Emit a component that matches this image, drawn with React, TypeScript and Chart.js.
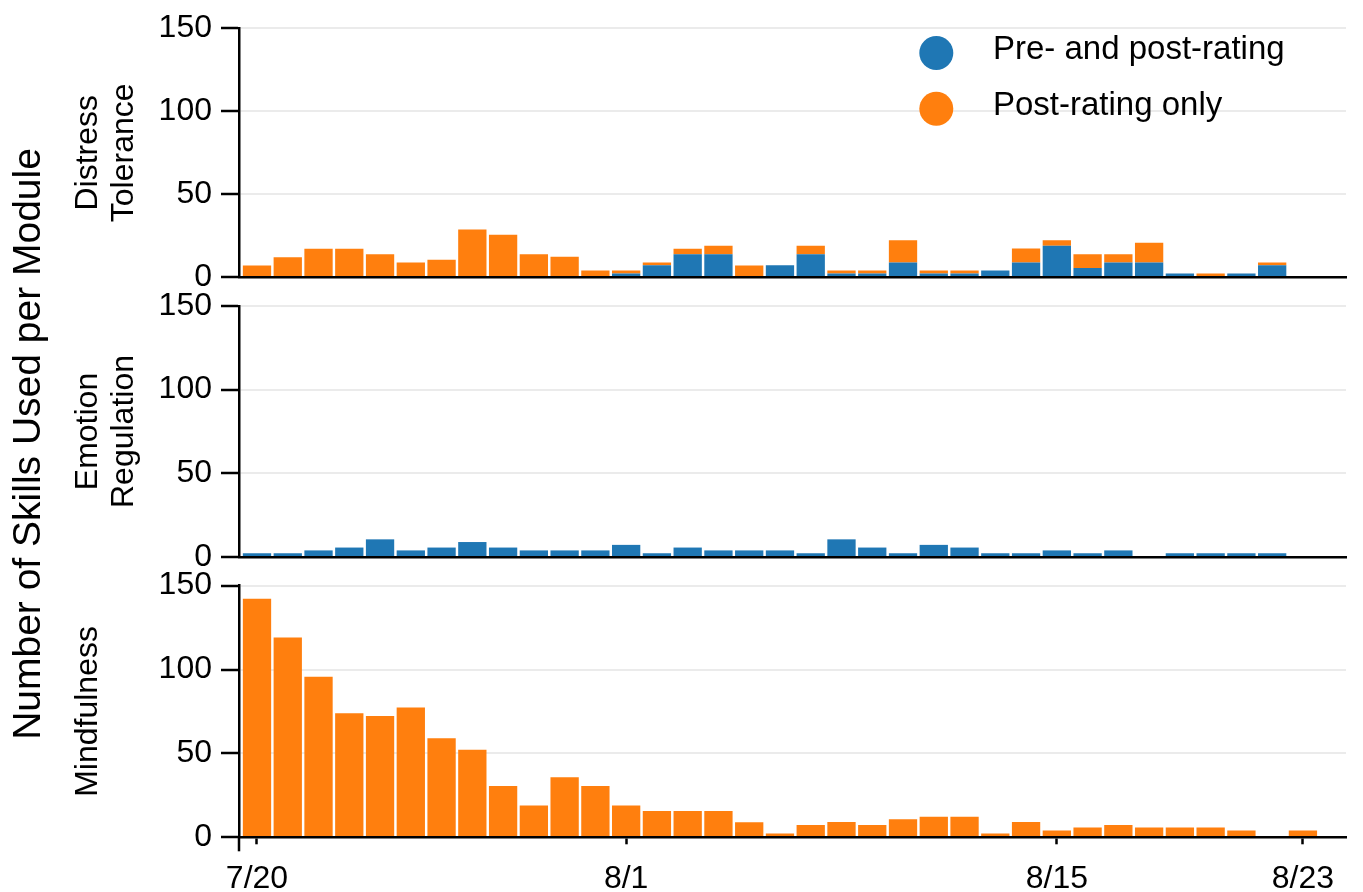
import { useEffect, useRef } from "react";
import { Chart, registerables } from "chart.js";

Chart.register(...registerables);

// ---------- data ----------
const dates = [
  "7/20", "7/21", "7/22", "7/23", "7/24", "7/25", "7/26", "7/27", "7/28", "7/29", "7/30", "7/31",
  "8/1", "8/2", "8/3", "8/4", "8/5", "8/6", "8/7", "8/8", "8/9", "8/10", "8/11", "8/12", "8/13",
  "8/14", "8/15", "8/16", "8/17", "8/18", "8/19", "8/20", "8/21", "8/22", "8/23",
];
const tickDates = ["7/20", "8/1", "8/15", "8/23"];
const yTicks = [0, 50, 100, 150];
const seriesLabels = ["Pre- and post-rating", "Post-rating only"];
const moduleTitles = [["Distress", "Tolerance"], ["Emotion", "Regulation"], ["Mindfulness"]];
const yAxisTitle = "Number of Skills Used per Module";

const distressPrePost = [
  0, 0, 0, 0, 0, 0, 0, 0, 0, 0, 0, 0,
  2.3, 7.3, 14.0, 14.0, 0, 7.3, 14.0, 2.3, 2.3, 9.0, 2.3, 2.3, 4.1,
  9.0, 19.0, 5.7, 9.0, 9.0, 2.3, 0, 2.3, 7.3, 0,
];
const distressPostOnly = [
  7.1, 12.2, 17.2, 17.2, 14.0, 9.0, 10.6, 28.9, 25.7, 14.0, 12.4, 4.1,
  1.8, 1.7, 3.2, 5.0, 7.1, 0, 5.0, 1.8, 1.8, 13.3, 1.8, 1.8, 0,
  8.4, 3.3, 8.3, 5.0, 11.8, 0, 2.3, 0, 1.7, 0,
];
const emotionPrePost = [
  2.3, 2.3, 4.0, 5.7, 10.6, 4.0, 5.7, 9.0, 5.7, 4.0, 4.0, 4.0,
  7.3, 2.3, 5.7, 4.0, 4.0, 4.0, 2.3, 10.6, 5.7, 2.3, 7.3, 5.7, 2.3,
  2.3, 4.0, 2.3, 4.0, 0, 2.3, 2.3, 2.3, 2.3, 0,
];
const mindfulnessPostOnly = [
  142.2, 119.0, 95.7, 73.9, 72.3, 77.3, 59.0, 52.2, 30.6, 18.9, 35.8, 30.6,
  18.9, 15.7, 15.7, 15.7, 8.9, 2.3, 7.3, 9.1, 7.3, 10.7, 12.3, 12.3, 2.3,
  9.1, 4.0, 5.8, 7.3, 5.8, 5.8, 5.8, 4.0, 0, 4.0,
];

// ---------- style ----------
const W = 1363;
const H = 892;
const BLUE = "#1f77b4";
const ORANGE = "#ff7f0e";
const FONT = "'Liberation Sans', Arial, Helvetica, sans-serif";
const AREA_LEFT = 239;
const AREA_RIGHT = 1346;
const X_MIN = -0.585;
const X_MAX = 35.4;

type PanelSpec = {
  title: string[];
  pre: number[] | null;
  post: number[] | null;
  top: number;
  bottom: number;
  showX: boolean;
  legend: boolean;
  supLabel: boolean;
};

const panels: PanelSpec[] = [
  { title: moduleTitles[0], pre: distressPrePost, post: distressPostOnly, top: 25.7, bottom: 277.4, showX: false, legend: true, supLabel: false },
  { title: moduleTitles[1], pre: emotionPrePost, post: null, top: 305.9, bottom: 557.1, showX: false, legend: false, supLabel: false },
  { title: moduleTitles[2], pre: null, post: mindfulnessPostOnly, top: 585.6, bottom: 837.3, showX: true, legend: false, supLabel: true },
];

const legendPlugin = {
  id: "customLegend",
  afterDraw(chart: any) {
    const opts = chart.options.plugins.customLegend;
    if (!opts || !opts.show) return;
    const ctx = chart.ctx;
    ctx.save();
    const colors = [BLUE, ORANGE];
    seriesLabels.forEach((label, i) => {
      const cy = 53 + i * 55.7;
      ctx.beginPath();
      ctx.arc(936.3, cy, 17, 0, Math.PI * 2);
      ctx.fillStyle = colors[i];
      ctx.fill();
      ctx.fillStyle = "#000";
      ctx.font = `33px ${FONT}`;
      ctx.textAlign = "left";
      ctx.textBaseline = "alphabetic";
      ctx.fillText(label, 993, 59 + i * 55.7);
    });
    ctx.restore();
  },
};

const supLabelPlugin = {
  id: "supLabel",
  afterDraw(chart: any) {
    const opts = chart.options.plugins.supLabel;
    if (!opts || !opts.show) return;
    const ctx = chart.ctx;
    const area = chart.chartArea;
    ctx.save();
    // y-axis spine continues slightly below the x axis
    ctx.strokeStyle = "#000";
    ctx.lineWidth = 2.5;
    ctx.beginPath();
    ctx.moveTo(area.left, area.bottom);
    ctx.lineTo(area.left, area.bottom + 14);
    ctx.stroke();
    ctx.translate(29, 444);
    ctx.rotate(-Math.PI / 2);
    ctx.fillStyle = "#000";
    ctx.font = `39px ${FONT}`;
    ctx.textAlign = "center";
    ctx.textBaseline = "middle";
    ctx.fillText(yAxisTitle, 0, 0);
    ctx.restore();
  },
};

function makeChart(canvas: HTMLCanvasElement, p: PanelSpec) {
  const tickIdx = tickDates.map((d) => dates.indexOf(d));
  const datasets: any[] = [];
  if (p.pre) {
    datasets.push({
      label: seriesLabels[0],
      data: p.pre.map((v, i) => ({ x: i, y: v })),
      backgroundColor: BLUE,
      borderWidth: 0,
      barPercentage: 0.92,
      categoryPercentage: 1,
    });
  }
  if (p.post) {
    datasets.push({
      label: seriesLabels[1],
      data: p.post.map((v, i) => ({ x: i, y: v })),
      backgroundColor: ORANGE,
      borderWidth: 0,
      barPercentage: 0.92,
      categoryPercentage: 1,
    });
  }
  const xAxisH = p.showX ? 54 : 0;
  return new Chart(canvas, {
    type: "bar",
    data: { datasets },
    plugins: [legendPlugin, supLabelPlugin],
    options: {
      animation: false,
      responsive: false,
      maintainAspectRatio: false,
      devicePixelRatio: 1,
      layout: {
        padding: { top: p.top, bottom: H - p.bottom - xAxisH, left: 0, right: W - AREA_RIGHT },
      },
      plugins: {
        legend: { display: false },
        tooltip: { enabled: false },
        customLegend: { show: p.legend },
        supLabel: { show: p.supLabel },
      } as any,
      scales: {
        x: {
          type: "linear",
          stacked: true,
          min: X_MIN,
          max: X_MAX,
          bounds: "data",
          offset: false,
          afterFit: (s: any) => {
            s.height = xAxisH;
          },
          afterBuildTicks: (s: any) => {
            s.ticks = tickIdx.map((v) => ({ value: v }));
          },
          grid: {
            display: true,
            offset: false,
            drawOnChartArea: false,
            drawTicks: p.showX,
            tickLength: 7,
            tickColor: "#000",
            tickWidth: 2.5,
          },
          border: { display: true, color: "#000", width: 2.5, z: 1 },
          ticks: {
            display: p.showX,
            padding: 16,
            color: "#000",
            autoSkip: false,
            maxRotation: 0,
            font: { family: FONT, size: 32 },
            callback: (v: any) => dates[Math.round(Number(v))] ?? "",
          },
        },
        y: {
          type: "linear",
          stacked: true,
          min: 0,
          max: 150,
          afterFit: (s: any) => {
            s.width = AREA_LEFT;
          },
          afterBuildTicks: (s: any) => {
            s.ticks = yTicks.map((v) => ({ value: v }));
          },
          grid: {
            color: (c: any) => (c.tick && c.tick.value === 0 ? "rgba(0,0,0,0)" : "#ebebeb"),
            lineWidth: 2,
            tickLength: 18,
            tickColor: "#000",
            tickWidth: 2.5,
          },
          border: { display: true, color: "#000", width: 2.5, z: 1 },
          ticks: {
            padding: 9,
            color: "#000",
            font: { family: FONT, size: 32 },
          },
          title: {
            display: true,
            text: p.title,
            color: "#000",
            font: { family: FONT, size: 32, lineHeight: 1.12 },
            padding: { top: 70, bottom: 0 },
          },
        },
      },
    } as any,
  });
}

export default function App() {
  const r1 = useRef<HTMLCanvasElement>(null);
  const r2 = useRef<HTMLCanvasElement>(null);
  const r3 = useRef<HTMLCanvasElement>(null);

  useEffect(() => {
    const refs = [r1, r2, r3];
    const charts = refs.map((r, i) => makeChart(r.current as HTMLCanvasElement, panels[i]));
    return () => charts.forEach((c) => c.destroy());
  }, []);

  const canvasStyle: React.CSSProperties = {
    position: "absolute",
    left: 0,
    top: 0,
    width: W,
    height: H,
  };

  return (
    <div style={{ position: "absolute", left: 0, top: 0, width: W, height: H, background: "#fff", overflow: "hidden" }}>
      <canvas ref={r1} width={W} height={H} style={canvasStyle} />
      <canvas ref={r2} width={W} height={H} style={canvasStyle} />
      <canvas ref={r3} width={W} height={H} style={canvasStyle} />
    </div>
  );
}
